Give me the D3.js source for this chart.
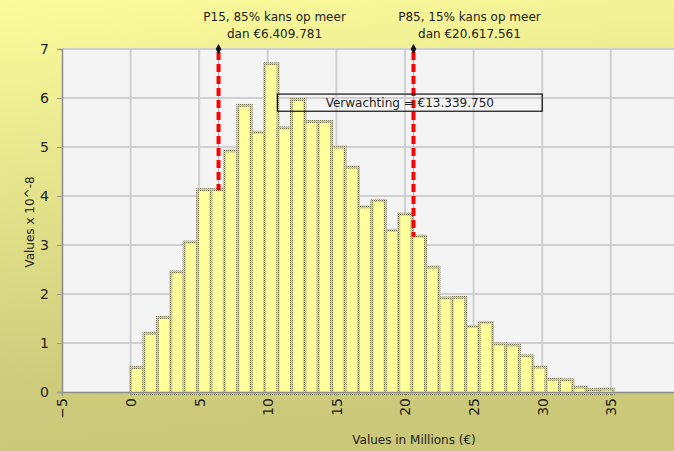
<!DOCTYPE html>
<html>
<head>
<meta charset="utf-8">
<script src="https://cdn.jsdelivr.net/npm/d3@7"></script>
<style>
  html, body { margin: 0; padding: 0; }
  svg { display: block; font-family: "DejaVu Sans", sans-serif; }
</style>
</head>
<body>
<svg id="chart" width="674" height="451"></svg>
<script>
// histogram heights (Values x 10^-8), one per bin
const binHeights = [0.53, 1.23, 1.55, 2.48, 3.09, 4.16, 4.16, 4.95, 5.88, 5.33, 6.73, 5.42,
    6.0, 5.55, 5.55, 5.03, 4.62, 3.81, 3.94, 3.33, 3.66, 3.21, 2.58, 1.95,
    1.96, 1.37, 1.45, 1.01, 0.99, 0.77, 0.54, 0.29, 0.28, 0.13, 0.08, 0.09];
const binStart = -0.11;
const binWidth = 0.977;

const xTicks = [-5, 0, 5, 10, 15, 20, 25, 30, 35, 40];
const yTicks = [0, 1, 2, 3, 4, 5, 6, 7];

const percentiles = [
    { value: 6.409781, line1: "P15, 85% kans op meer", line2: "dan €6.409.781" },
    { value: 20.617561, line1: "P85, 15% kans op meer", line2: "dan €20.617.561" }
];
const expectationLabel = "Verwachting = €13.339.750";
const expectationBox = { x0: 10.7, x1: 30, y0: 6.08, y1: 5.73 };

const width = 674, height = 451;
const svg = d3.select("#chart");

const x = d3.scaleLinear().domain([-5, 40]).range([62, 679.4]);
const y = d3.scaleLinear().domain([0, 7]).range([392, 49]);

const defs = svg.append("defs");
const grad = defs.append("linearGradient")
    .attr("id", "bg")
    .attr("x1", 0).attr("y1", 0).attr("x2", 0.15).attr("y2", 1);
grad.append("stop").attr("offset", "0%").attr("stop-color", "#fbfb9c");
grad.append("stop").attr("offset", "85%").attr("stop-color", "#cecb7b");
grad.append("stop").attr("offset", "100%").attr("stop-color", "#cbc879");

// dotted border of the bars
const pat = defs.append("pattern")
    .attr("id", "dots")
    .attr("patternUnits", "userSpaceOnUse")
    .attr("width", 2).attr("height", 2);
pat.append("rect").attr("width", 2).attr("height", 2).attr("fill", "#e4e294");
pat.append("rect").attr("width", 1).attr("height", 1).attr("fill", "#6e6c48");
pat.append("rect").attr("x", 1).attr("y", 1).attr("width", 1).attr("height", 1).attr("fill", "#bdbb78");

svg.append("rect")
    .attr("width", width).attr("height", height)
    .attr("fill", "url(#bg)");

// plot area
svg.append("rect")
    .attr("x", x(-5)).attr("y", y(7))
    .attr("width", width - x(-5)).attr("height", y(0) - y(7))
    .attr("fill", "#f4f4f4");

const grid = svg.append("g");
grid.selectAll(".hgrid")
    .data(yTicks.filter(d => d > 0))
    .join("line")
    .attr("x1", x(-5)).attr("x2", width)
    .attr("y1", d => y(d)).attr("y2", d => y(d))
    .attr("stroke", "#d0d0d0").attr("stroke-width", 2);
grid.selectAll(".vgrid")
    .data(xTicks.filter(d => d > -5))
    .join("line")
    .attr("x1", d => x(d)).attr("x2", d => x(d))
    .attr("y1", y(7)).attr("y2", y(0))
    .attr("stroke", "#d0d0d0").attr("stroke-width", 2);

// bars
const bars = binHeights.map((h, i) => ({
    x0: binStart + i * binWidth,
    x1: binStart + (i + 1) * binWidth,
    h
}));
svg.append("g").selectAll("rect")
    .data(bars)
    .join("rect")
    .attr("x", d => x(d.x0) + 1.5)
    .attr("y", d => y(d.h) + 1.5)
    .attr("width", d => x(d.x1) - x(d.x0))
    .attr("height", d => y(0) - y(d.h))
    .attr("fill", "#ffff9c")
    .attr("stroke", "url(#dots)")
    .attr("stroke-width", 3);

// axes
const yAxis = svg.append("g")
    .attr("transform", `translate(${x(-5)},0)`)
    .call(d3.axisLeft(y).tickValues(yTicks).tickFormat(d3.format("d")).tickSize(5).tickPadding(8));
const xAxis = svg.append("g")
    .attr("transform", `translate(0,${y(0)})`)
    .call(d3.axisBottom(x).tickValues(xTicks).tickFormat(d3.format("d")).tickSize(4));

[yAxis, xAxis].forEach(a => {
    a.select(".domain").attr("stroke", "#8c8c8c").attr("stroke-width", 1.5);
    a.selectAll(".tick line").attr("stroke", "#9a9a9a");
});
yAxis.selectAll(".tick text")
    .attr("font-size", 14).attr("fill", "#222")
    .attr("font-family", "DejaVu Sans");
xAxis.selectAll(".tick text")
    .attr("font-size", 14).attr("fill", "#222")
    .attr("font-family", "DejaVu Sans")
    .attr("text-anchor", "end")
    .attr("transform", "translate(0,6) rotate(-90)")
    .attr("x", 0).attr("y", 0).attr("dy", "0.35em");

// percentile lines
const binAt = v => bars.find(b => v >= b.x0 && v < b.x1);
percentiles.forEach(p => {
    const px = x(p.value);
    const bottom = y(binAt(p.value).h) + 2;
    svg.append("line")
        .attr("x1", px).attr("x2", px)
        .attr("y1", y(7)).attr("y2", bottom)
        .attr("stroke", "#aaaaaa").attr("stroke-width", 1);
    svg.append("line")
        .attr("x1", px).attr("x2", px)
        .attr("y1", y(7) + 3).attr("y2", bottom)
        .attr("stroke", "#ff0000").attr("stroke-width", 4)
        .attr("stroke-dasharray", "8,4");
    svg.append("path")
        .attr("d", d3.symbol(d3.symbolDiamond).size(28)())
        .attr("transform", `translate(${px},${y(7)})`)
        .attr("fill", "#111");
    const t = svg.append("text")
        .attr("x", px + 56)
        .attr("text-anchor", "middle")
        .attr("font-size", 12).attr("fill", "#222");
    t.append("tspan").attr("x", px + 56).attr("y", 21).text(p.line1);
    t.append("tspan").attr("x", px + 56).attr("y", 38).text(p.line2);
});

// expectation box
svg.append("rect")
    .attr("x", x(expectationBox.x0)).attr("y", y(expectationBox.y0))
    .attr("width", x(expectationBox.x1) - x(expectationBox.x0))
    .attr("height", y(expectationBox.y1) - y(expectationBox.y0))
    .attr("fill", "none").attr("stroke", "#111").attr("stroke-width", 1.2);
svg.append("text")
    .attr("x", (x(expectationBox.x0) + x(expectationBox.x1)) / 2)
    .attr("y", y(expectationBox.y1) - 4)
    .attr("text-anchor", "middle")
    .attr("font-size", 12).attr("fill", "#222")
    .text(expectationLabel);

// axis titles
svg.append("text")
    .attr("x", 414).attr("y", 444)
    .attr("text-anchor", "middle")
    .attr("font-size", 12).attr("fill", "#222")
    .text("Values in Millions (€)");
svg.append("text")
    .attr("transform", "translate(34,222) rotate(-90)")
    .attr("text-anchor", "middle")
    .attr("font-size", 12).attr("fill", "#222")
    .text("Values x 10^-8");
</script>
</body>
</html>
